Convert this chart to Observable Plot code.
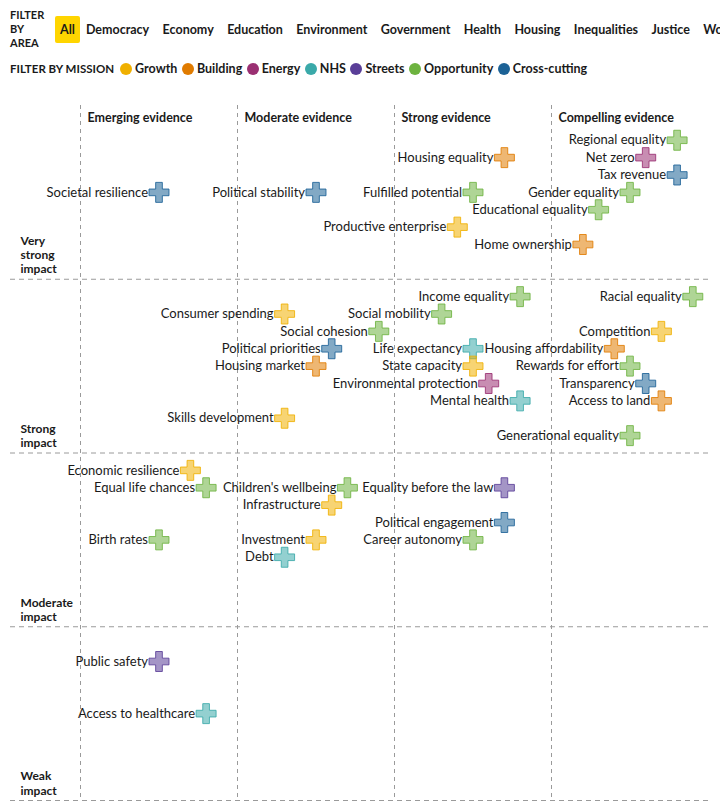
<!DOCTYPE html>
<html>
<head>
<meta charset="utf-8">
<script src="https://cdn.jsdelivr.net/npm/d3@7"></script>
<script src="https://cdn.jsdelivr.net/npm/@observablehq/plot@0.6"></script>
<style>
  body { margin: 0; background: #fff; font-family: Lato, "Open Sans", sans-serif; color: #1a1a1a; width: 720px; overflow: hidden; }
  .filters { position: relative; height: 90px; }
  .area { position: absolute; left: 10px; top: 8px; display: flex; align-items: center; white-space: nowrap; }
  .area .lbl { font-size: 11px; font-weight: 700; line-height: 14px; width: 40px; }
  .btn { font-size: 12.5px; font-weight: 700; margin-right: 13.4px; }
  .btn.on { background: #ffd500; padding: 6px 5px; border-radius: 2px; margin-left: 5px; margin-right: 6px; }
  .mission { position: absolute; left: 10px; top: 61px; display: flex; align-items: center; white-space: nowrap; font-size: 12.5px; font-weight: 700; }
  .mission .lbl { font-size: 11.5px; margin-right: 6px; }
  .sw { display: inline-block; width: 12px; height: 12px; border-radius: 50%; margin-right: 3px; }
  .it { display: flex; align-items: center; margin-right: 4.5px; }
</style>
</head>
<body>
<div class="filters">
  <div class="area" id="area"><div class="lbl">FILTER<br>BY<br>AREA</div></div>
  <div class="mission" id="mission"><span class="lbl">FILTER BY MISSION</span></div>
</div>
<div id="chart"></div>
<script>
const areas = ["All","Democracy","Economy","Education","Environment","Government","Health","Housing","Inequalities","Justice","Work"];
const missions = ["Growth","Building","Energy","NHS","Streets","Opportunity","Cross-cutting"];
const missionColors = ["#f0b000","#e07b00","#9a2f72","#3aa9a9","#5a3e98","#6db33f","#1c6296"];
const evidenceLevels = ["Emerging evidence","Moderate evidence","Strong evidence","Compelling evidence"];
const impactLevels = ["Weak\nimpact","Moderate\nimpact","Strong\nimpact","Very\nstrong\nimpact"];
const levelStarts = [0, 10, 20, 30];

const labels = [
  "Societal resilience","Political stability","Housing equality","Fulfilled potential","Productive enterprise",
  "Regional equality","Net zero","Tax revenue","Gender equality","Educational equality","Home ownership",
  "Income equality","Racial equality","Consumer spending","Social mobility","Social cohesion","Competition",
  "Political priorities","Life expectancy","Housing affordability","Housing market","State capacity",
  "Rewards for effort","Environmental protection","Transparency","Mental health","Access to land",
  "Skills development","Generational equality",
  "Economic resilience","Equal life chances","Children's wellbeing","Equality before the law","Infrastructure",
  "Political engagement","Birth rates","Investment","Career autonomy","Debt",
  "Public safety","Access to healthcare"
];
const evidence = [
  5,15,27,25,24,
  38,36,38,35,33,32,
  28,39,13,23,19,37,
  16,25,34,15,25,
  35,26,36,28,37,
  13,35,
  7,8,17,27,16,
  27,5,15,25,13,
  5,8
];
const impact = [
  35,35,37,35,33,
  38,37,36,35,34,32,
  29,29,28,28,27,27,
  26,26,26,25,25,
  25,24,24,23,23,
  22,21,
  19,18,18,18,17,
  16,15,15,15,14,
  8,5
];
const mission = [
  "Cross-cutting","Cross-cutting","Building","Opportunity","Growth",
  "Opportunity","Energy","Cross-cutting","Opportunity","Opportunity","Building",
  "Opportunity","Opportunity","Growth","Opportunity","Opportunity","Growth",
  "Cross-cutting","NHS","Building","Building","Growth",
  "Opportunity","Energy","Cross-cutting","NHS","Building",
  "Growth","Opportunity",
  "Growth","Opportunity","Opportunity","Streets","Growth",
  "Cross-cutting","Opportunity","Growth","Opportunity","NHS",
  "Streets","NHS"
];

const data = labels.map((l, i) => ({label: l, evidence: evidence[i], impact: impact[i], mission: mission[i]}));

// HTML filter rows
const areaEl = document.getElementById("area");
areas.forEach((a, i) => {
  const s = document.createElement("span");
  s.className = "btn" + (i === 0 ? " on" : "");
  s.textContent = a;
  areaEl.appendChild(s);
});
const misEl = document.getElementById("mission");
missions.forEach((m, i) => {
  const it = document.createElement("span");
  it.className = "it";
  it.innerHTML = `<span class="sw" style="background:${missionColors[i]}"></span>${m}`;
  misEl.appendChild(it);
});

const colorScale = {domain: missions, range: missionColors};

const chart = Plot.plot({
  width: 720,
  height: 722,
  marginTop: 15,
  marginBottom: 12,
  marginLeft: 80,
  marginRight: 12,
  style: {fontFamily: "Lato, 'Open Sans', sans-serif", fontSize: "13px", color: "#1a1a1a", background: "#fff"},
  x: {domain: [0, 40], axis: null},
  y: {domain: [0, 40], axis: null},
  color: colorScale,
  marks: [
    Plot.ruleY(levelStarts, {stroke: "#9a9a9a", strokeDasharray: "5,4", strokeWidth: 1, insetLeft: -70, insetRight: -2}),
    Plot.ruleX(levelStarts, {stroke: "#9a9a9a", strokeDasharray: "4,4", strokeWidth: 1}),
    Plot.text(evidenceLevels, {x: (d, i) => levelStarts[i], y: () => 40, text: d => d, textAnchor: "start", dx: 7, dy: 12, fontWeight: "bold", fontSize: 12.5}),
    Plot.text(impactLevels, {x: () => 0, y: (d, i) => levelStarts[i], text: d => d, textAnchor: "start", lineAnchor: "bottom", dx: -60, dy: -6, fontWeight: "bold", fontSize: 12, lineHeight: 1.17}),
    Plot.dot(data, {x: "evidence", y: "impact", symbol: "cross", r: 8.4, fill: "mission", fillOpacity: 0.55, stroke: "mission", strokeOpacity: 0.85, strokeWidth: 1}),
    Plot.text(data, {x: "evidence", y: "impact", text: "label", textAnchor: "end", dx: -11, fill: "#1a1a1a"})
  ]
});
document.getElementById("chart").appendChild(chart);
</script>
</body>
</html>
